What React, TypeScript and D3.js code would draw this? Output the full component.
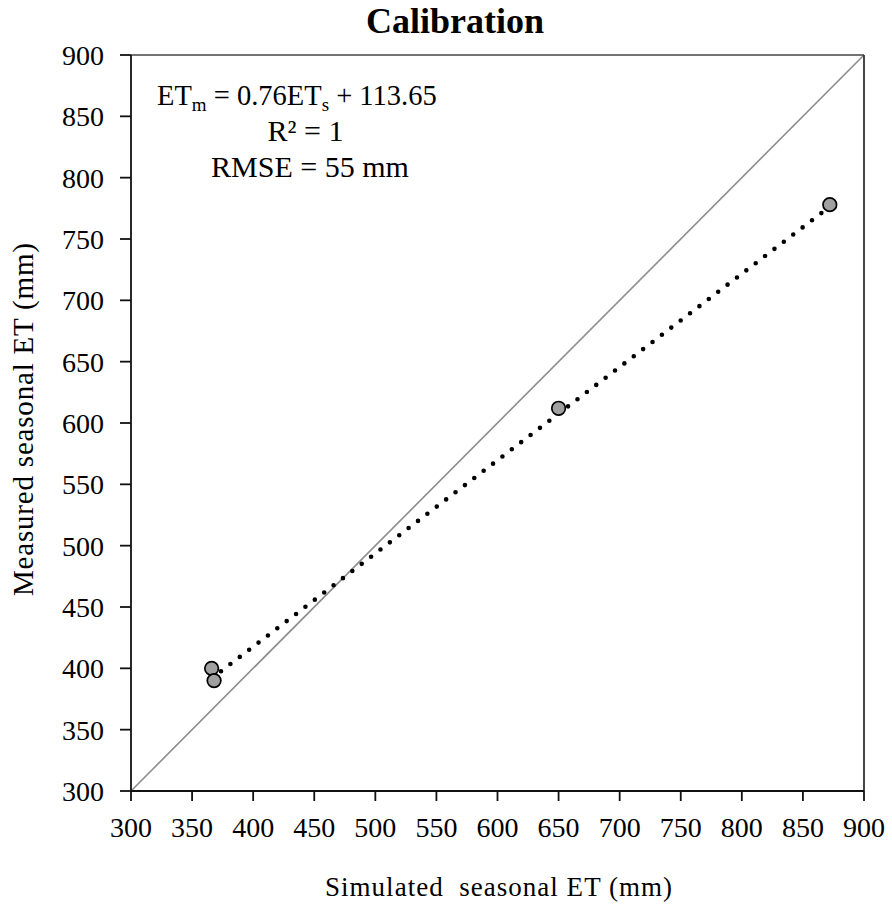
import React from "react";
import * as d3 from "d3";

// Seasonal evapotranspiration, simulated vs measured (mm)
const simulatedET = [366, 368, 650, 872];
const measuredET = [400, 390, 612, 778];

// Fitted regression reported on the chart: ETm = 0.76 ETs + 113.65
const fitSlope = 0.76;
const fitIntercept = 113.65;

const axisTicks = [300, 350, 400, 450, 500, 550, 600, 650, 700, 750, 800, 850, 900];

const W = 892;
const H = 909;
const left = 131;
const right = 864;
const top = 55;
const bottom = 791;
const FONT = "'Liberation Serif', 'Times New Roman', serif";

export default function App() {
  const x = d3.scaleLinear().domain([300, 900]).range([left, right]);
  const y = d3.scaleLinear().domain([300, 900]).range([bottom, top]);

  const xMin = d3.min(simulatedET)!;
  const xMax = d3.max(simulatedET)!;
  const fitLine = d3
    .line<number>()
    .x((v) => x(v))
    .y((v) => y(fitSlope * v + fitIntercept));

  return (
    <svg
      width={W}
      height={H}
      style={{ position: "absolute", left: 0, top: 0, background: "#fff" }}
      fontFamily={FONT}
    >
      <text x={455} y={33} textAnchor="middle" fontSize={36} fontWeight="bold">
        Calibration
      </text>

      {/* 1:1 line */}
      <line x1={x(300)} y1={y(300)} x2={x(900)} y2={y(900)} stroke="#8c8c8c" strokeWidth={1.6} />

      {/* frame */}
      <line x1={left} y1={top} x2={right} y2={top} stroke="#444" strokeWidth={1.6} />
      <line x1={right} y1={top} x2={right} y2={bottom} stroke="#333" strokeWidth={1.8} />
      <line x1={left} y1={top} x2={left} y2={bottom} stroke="#111" strokeWidth={1.8} />
      <line x1={left} y1={bottom} x2={right} y2={bottom} stroke="#111" strokeWidth={1.8} />

      {/* regression trend (dotted) */}
      <path
        d={fitLine([xMin, xMax]) ?? ""}
        fill="none"
        stroke="#000"
        strokeWidth={4.6}
        strokeLinecap="round"
        strokeDasharray="0 11.8"
      />

      {/* observations */}
      {simulatedET.map((s, i) => (
        <circle
          key={i}
          cx={x(s)}
          cy={y(measuredET[i])}
          r={6.8}
          fill="#a0a0a0"
          stroke="#000"
          strokeWidth={1.7}
        />
      ))}

      {/* x axis ticks */}
      {axisTicks.map((t) => (
        <g key={"x" + t}>
          <line x1={x(t)} y1={bottom} x2={x(t)} y2={bottom + 10} stroke="#111" strokeWidth={1.8} />
          <text x={x(t)} y={837} textAnchor="middle" fontSize={28}>
            {t}
          </text>
        </g>
      ))}

      {/* y axis ticks */}
      {axisTicks.map((t) => (
        <g key={"y" + t}>
          <line x1={left - 11} y1={y(t)} x2={left} y2={y(t)} stroke="#111" strokeWidth={1.8} />
          <text x={104} y={y(t) + 10} textAnchor="end" fontSize={28}>
            {t}
          </text>
        </g>
      ))}

      {/* axis titles */}
      <text
        x={325}
        y={896}
        fontSize={27}
        textLength={347}
        lengthAdjust="spacing"
        style={{ whiteSpace: "pre" }}
      >
        {"Simulated  seasonal ET (mm)"}
      </text>
      <text
        transform="translate(33, 596) rotate(-90)"
        fontSize={29}
        textLength={353}
        lengthAdjust="spacing"
      >
        Measured seasonal ET (mm)
      </text>

      {/* regression statistics */}
      <text x={157} y={105} fontSize={28.5}>
        ET<tspan fontSize={19} dy={6}>m</tspan>
        <tspan dy={-6}> = 0.76ET</tspan>
        <tspan fontSize={19} dy={6}>s</tspan>
        <tspan dy={-6}> + 113.65</tspan>
      </text>
      <text x={305.5} y={141} textAnchor="middle" fontSize={30}>
        R² = 1
      </text>
      <text x={310} y={177} textAnchor="middle" fontSize={30}>
        RMSE = 55 mm
      </text>
    </svg>
  );
}
